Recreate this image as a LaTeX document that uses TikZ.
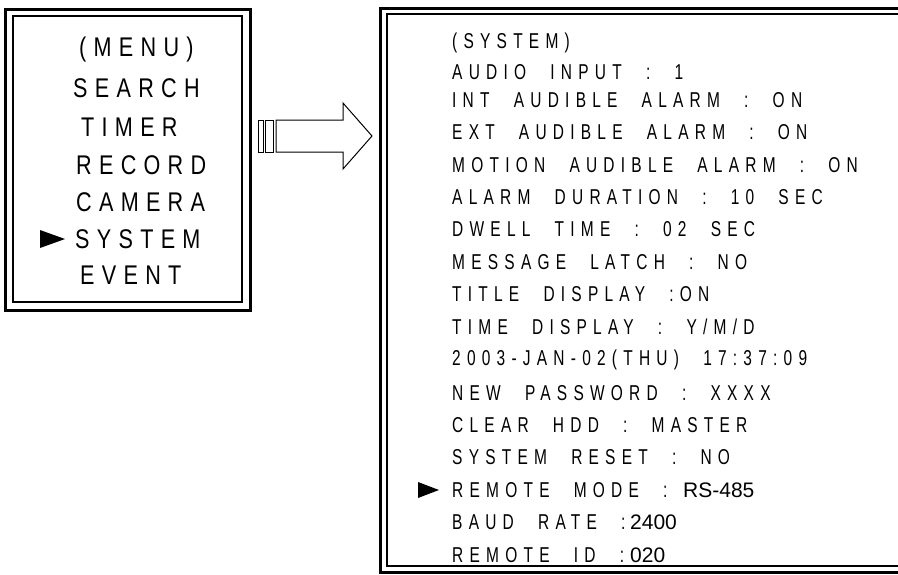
\documentclass[tikz,border=0pt]{standalone}
\usepackage{fontspec}
\newfontfamily\menufont[FakeStretch=0.8,LetterSpace=27,WordSpace=2]{Liberation Sans}
\newfontfamily\lcdfont[FakeStretch=0.72,LetterSpace=29,WordSpace=2.3]{Liberation Sans}
\newfontfamily\valfont{Liberation Sans}
\tikzset{
  outerline/.style={draw=black,line width=3pt},
  innerline/.style={draw=black,line width=2pt},
  menuitem/.style={anchor=west,inner sep=0pt,font=\menufont\fontsize{27}{27}\selectfont},
  sysitem/.style={anchor=west,inner sep=0pt,font=\lcdfont\fontsize{21.5}{21.5}\selectfont},
  valitem/.style={anchor=west,inner sep=0pt,font=\valfont\fontsize{21}{21}\selectfont},
  pointer/.style={fill=black},
  blockarrow/.style={draw=black,line width=1pt,fill=white}
}
\begin{document}
\begin{tikzpicture}[x=1pt,y=-1pt]
\useasboundingbox (0,0) rectangle (898,574);
\clip (0,0) rectangle (898,574);
% left menu box
\draw[outerline] (5,9) rectangle (250,310);
\draw[innerline] (13,16) rectangle (242,302);
\node[menuitem] (m0) at (79,50) {(MENU)};
\node[menuitem] (m1) at (73,88) {SEARCH};
\node[menuitem] (m2) at (81,127) {TIMER};
\node[menuitem] (m3) at (76,165) {RECORD};
\node[menuitem] (m4) at (76,202) {CAMERA};
\node[menuitem] (m5) at (75,239) {SYSTEM};
\node[menuitem] (m6) at (80,275) {EVENT};
\fill[pointer] (40,230) -- (65,239) -- (40,248) -- cycle;
% block arrow
\draw[blockarrow] (258,120) rectangle (263,152);
\draw[blockarrow] (265,120) rectangle (273,152);
\draw[blockarrow] (276,120) -- (343,120) -- (343,103) -- (372,136) -- (343,169) -- (343,152) -- (276,152) -- cycle;
% right system box
\draw[outerline] (380,8) rectangle (930,572);
\draw[innerline] (387,14) rectangle (930,566);
\node[sysitem] (s0) at (452,43) {(SYSTEM)};
\node[sysitem] (s1) at (452,72) {AUDIO INPUT : 1};
\node[sysitem] (s2) at (452,100) {INT AUDIBLE ALARM : ON};
\node[sysitem] (s3) at (452,132) {EXT AUDIBLE ALARM : ON};
\node[sysitem] (s4) at (452,165) {MOTION AUDIBLE ALARM : ON};
\node[sysitem] (s5) at (452,197) {ALARM DURATION : 10 SEC};
\node[sysitem] (s6) at (452,229) {DWELL TIME : 02 SEC};
\node[sysitem] (s7) at (452,262) {MESSAGE LATCH : NO};
\node[sysitem] (s8) at (452,294) {TITLE DISPLAY :ON};
\node[sysitem] (s9) at (452,327) {TIME DISPLAY : Y/M/D};
\node[sysitem] (s10) at (452,360) {2003-JAN-02(THU) 17:37:09};
\node[sysitem] (s11) at (452,393) {NEW PASSWORD : XXXX};
\node[sysitem] (s12) at (452,425) {CLEAR HDD : MASTER};
\node[sysitem] (s13) at (452,457) {SYSTEM RESET : NO};
\node[sysitem] (s14) at (452,490) {REMOTE MODE :};
\node[valitem] (v14) at (683,490) {RS-485};
\node[sysitem] (s15) at (452,522) {BAUD RATE :};
\node[valitem] (v15) at (630,522) {2400};
\node[sysitem] (s16) at (452,555) {REMOTE ID :};
\node[valitem] (v16) at (630,555) {020};
\fill[pointer] (418,482) -- (439,490) -- (418,498) -- cycle;
\end{tikzpicture}
\end{document}
